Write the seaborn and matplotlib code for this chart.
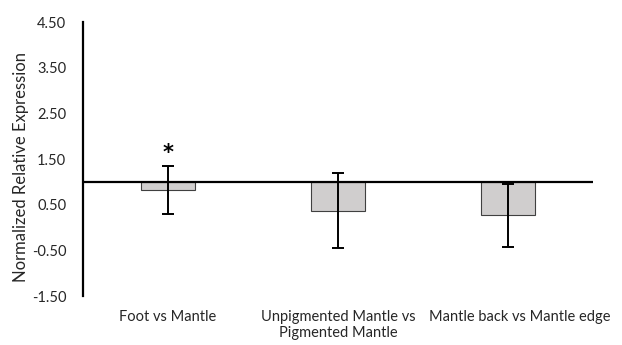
import matplotlib
matplotlib.use("Agg")
import matplotlib.pyplot as plt
import matplotlib.transforms as mtransforms
import seaborn as sns
import pandas as pd

categories = ["Foot vs Mantle", "Unpigmented Mantle vs\nPigmented Mantle", "Mantle back vs Mantle edge"]
values = [0.82, 0.37, 0.27]
errors = [0.52, 0.82, 0.69]
baseline = 1.0
yticks = [-1.5, -0.5, 0.5, 1.5, 2.5, 3.5, 4.5]
significance = ["*", "", ""]

sns.set_theme(style="white")
plt.rcParams["font.family"] = ["Lato", "DejaVu Sans"]

fig = plt.figure(figsize=(6.22, 3.45), dpi=100)
ax = fig.add_axes([0.1334, 0.142, 0.8196, 0.794])

df = pd.DataFrame({"cat": categories, "delta": [v - baseline for v in values]})
sns.barplot(data=df, x="cat", y="delta", bottom=baseline, color="#d0cece",
            edgecolor="#404040", linewidth=0.8, width=0.32, saturation=1,
            errorbar=None, ax=ax)
ax.errorbar(range(len(categories)), values, yerr=errors, fmt="none",
            ecolor="black", elinewidth=1.4, capsize=4, capthick=1.4, zorder=5)
for i, s in enumerate(significance):
    if s:
        ax.text(i, values[i] + errors[i] + 0.08, s, ha="center", va="bottom",
                fontsize=15, fontweight="bold", color="black",
                family=["DejaVu Sans"])

ax.axhline(baseline, color="black", lw=1.6, zorder=6)
ax.set_xlim(-0.5, 2.5)
ax.set_ylim(-1.5, 4.5)
ax.set_yticks(yticks)
ax.set_yticklabels([f"{t:.2f}" for t in yticks], fontsize=10.5)
ax.tick_params(axis="x", labelsize=10.5, length=0, pad=10)
ax.tick_params(axis="y", length=0, pad=12)
for sp in ["top", "right", "bottom"]:
    ax.spines[sp].set_visible(False)
ax.spines["left"].set_color("black")
ax.spines["left"].set_linewidth(1.6)
ax.set_xlabel("")
ax.set_ylabel("Normalized Relative Expression", fontsize=12, labelpad=4)
ax.yaxis.set_label_coords(-0.105, 0.47)
xl = ax.get_xticklabels()
for lbl in xl:
    lbl.set_linespacing(1.2)
xl[-1].set_transform(xl[-1].get_transform() +
                     mtransforms.ScaledTranslation(0.12, 0, fig.dpi_scale_trans))

fig.savefig("out.png", dpi=100)
